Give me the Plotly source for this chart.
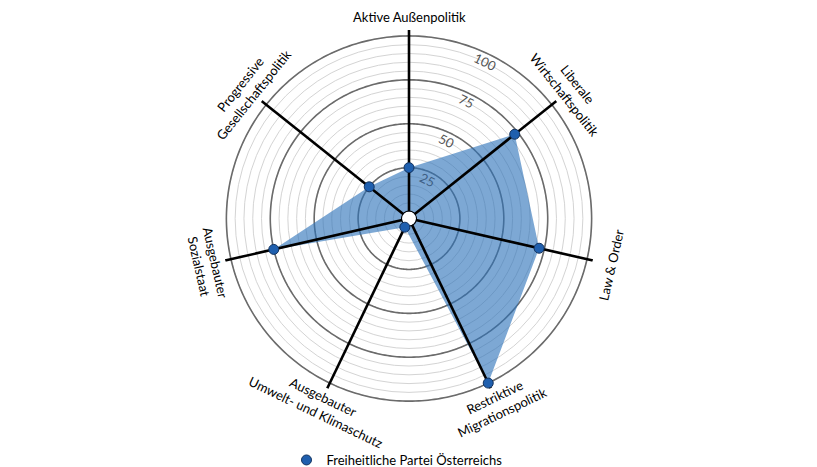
import numpy as np
import plotly.graph_objects as go

# ---------- data ----------
categories = [
    "Aktive Außenpolitik",
    "Liberale<br>Wirtschaftspolitik",
    "Law & Order",
    "Restriktive<br>Migrationspolitik",
    "Ausgebauter<br>Umwelt- und Klimaschutz",
    "Ausgebauter<br>Sozialstaat",
    "Progressive<br>Gesellschaftspolitik",
]
party = "Freiheitliche Partei Österreichs"
values = [25, 73, 72, 100, 1.5, 75, 25]
major_rings = [25, 50, 75, 100]
minor_rings = list(range(5, 101, 5))
ring_labels = ["25", "50", "75", "100"]

# ---------- geometry ----------
W, H = 817, 467
OFF = 8                      # page body margin in the browser
CX, CY = 409 - OFF, 219 - OFF  # centre of the spider inside the figure (px)
R_PX = 189                   # outer radius (end of spokes)
R_MAX = 103.4                # radial value at the end of spokes
HOLE = 7 / R_PX
N = len(categories)
thetas = [i * 360 / N for i in range(N)]

FILL = "rgba(45,115,185,0.62)"
MARKER = "#1f5fae"
FONT = "Lato"


def px_of(value):
    return R_PX * HOLE + (R_PX - R_PX * HOLE) * value / R_MAX


def paper(r_px, theta_deg, min_y=0):
    # plotly polar: rotation 90, clockwise
    a = np.radians(90 - theta_deg)
    x = CX + r_px * np.cos(a)
    y = max(CY - r_px * np.sin(a), min_y)
    return x / W, 1 - y / H


fig = go.Figure()

circle = np.linspace(0, 360, 361)
for lvl in major_rings:
    fig.add_trace(go.Scatterpolar(
        r=[lvl] * len(circle), theta=circle, mode="lines",
        line=dict(color="#6b6b6b", width=1.6),
        hoverinfo="skip", showlegend=False,
    ))

# filled area
fig.add_trace(go.Scatterpolar(
    r=values + values[:1], theta=thetas + thetas[:1], mode="lines",
    fill="toself", fillcolor=FILL, line=dict(width=0, color=FILL),
    hoverinfo="skip", showlegend=False,
))

# spokes
for t in thetas:
    fig.add_trace(go.Scatterpolar(
        r=[0, R_MAX], theta=[t, t], mode="lines",
        line=dict(color="black", width=2.6),
        hoverinfo="skip", showlegend=False,
    ))

# hole outline
fig.add_trace(go.Scatterpolar(
    r=[0] * len(circle), theta=circle, mode="lines",
    line=dict(color="black", width=2),
    hoverinfo="skip", showlegend=False,
))

# party points
fig.add_trace(go.Scatterpolar(
    r=values, theta=thetas, mode="markers", name=party,
    marker=dict(size=10, color=MARKER, line=dict(color="#12325e", width=1)),
))

# ---------- annotations ----------
annotations = []
for cat, t in zip(categories, thetas):
    x, y = paper(207, t, min_y=9)
    s = ((90 - t + 180) % 360) - 180   # screen angle, ccw
    angle = 90 - s if s >= 0 else -(90 + s)
    annotations.append(dict(
        x=x, y=y, xref="paper", yref="paper", text=cat, showarrow=False,
        textangle=angle, font=dict(family=FONT, size=13, color="black"),
        xanchor="center", yanchor="middle", align="center",
    ))

for lvl, lab in zip(major_rings, ring_labels):
    x, y = paper(px_of(lvl) - 8, 26)
    annotations.append(dict(
        x=x, y=y, xref="paper", yref="paper", text=lab, showarrow=False,
        textangle=26,
        font=dict(family=FONT, size=13,
                  color="#3e5f85" if lvl == 25 else "#555555"),
        xanchor="center", yanchor="middle",
    ))

fig.update_layout(
    width=W, height=H,
    margin=dict(l=0, r=0, t=0, b=0),
    paper_bgcolor="white",
    font=dict(family=FONT, size=13, color="black"),
    polar=dict(
        domain=dict(x=[(CX - R_PX) / W, (CX + R_PX) / W],
                    y=[1 - (CY + R_PX) / H, 1 - (CY - R_PX) / H]),
        hole=HOLE,
        bgcolor="white",
        radialaxis=dict(
            range=[0, R_MAX], tickvals=minor_rings,
            showticklabels=False, ticks="", showline=False,
            gridcolor="#d4d4d4", gridwidth=1,
        ),
        angularaxis=dict(
            rotation=90, direction="clockwise",
            tickvals=thetas, showticklabels=False, ticks="",
            showgrid=False, showline=False,
        ),
    ),
    showlegend=True,
    legend=dict(
        orientation="h", x=(397 - OFF) / W, xanchor="center",
        y=1 - (461 - OFF) / H, yanchor="middle",
        font=dict(family=FONT, size=13, color="black"),
        itemwidth=30,
    ),
    annotations=annotations,
)

fig.write_html("out.html")
